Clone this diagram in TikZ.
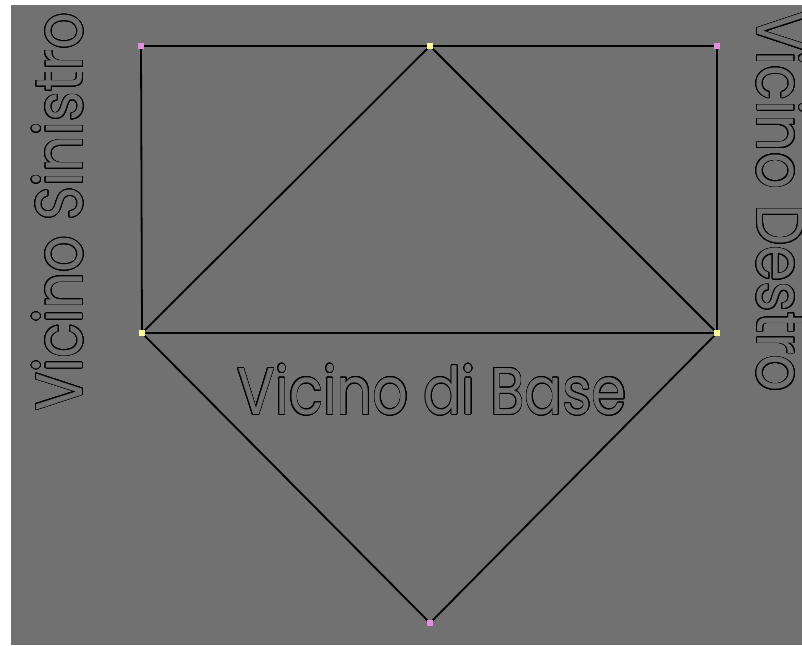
\documentclass[tikz,border=0pt]{standalone}
\usepackage{fontspec}
\setmainfont{Poppins}
\usepackage{contour}
\usetikzlibrary{positioning,calc}
\definecolor{BgGray}{RGB}{113,113,113}
\definecolor{VertPink}{RGB}{226,140,226}
\definecolor{VertYellow}{RGB}{250,250,150}
\contourlength{0.7pt}
\contournumber{32}
\newcommand{\hollow}[1]{\contour{black}{\textcolor{BgGray}{#1}}}

\begin{document}
\begin{tikzpicture}[x=1pt,y=-1pt,
    edge/.style={line width=1.8pt, black},
    vtx/.style={inner sep=0pt, minimum size=6pt, fill=#1},
    lbl/.style={font=\fontsize{66}{70}\selectfont, inner sep=0pt}]
      \useasboundingbox (0,0) rectangle (802,645);
      \clip (0,0) rectangle (802,645);
      \fill[white] (0,0) rectangle (802,645);
      \fill[BgGray] (11,5) rectangle (802,645);
      % vertici della mesh
      \coordinate (tl) at (141,46);
      \coordinate (tm) at (430,46);
      \coordinate (tr) at (717,46);
      \coordinate (ml) at (142,333);
      \coordinate (mr) at (717,333);
      \coordinate (bt) at (430,623);
      % spigoli
      \draw[edge] (tl)--(tm)--(tr);
      \draw[edge] (tl)--(ml); \draw[edge] (tr)--(mr);
      \draw[edge] (ml)--(mr);
      \draw[edge] (ml)--(tm)--(mr);
      \draw[edge] (ml)--(bt)--(mr);
      \node[vtx=VertPink] at (tl) {}; \node[vtx=VertYellow] at (tm) {};
      \node[vtx=VertPink] at (tr) {};
      \node[vtx=VertYellow] at (ml) {}; \node[vtx=VertYellow] at (mr) {};
      \node[vtx=VertPink] at (bt) {};
      % etichette
      \node[lbl, rotate=90, xscale=0.87] (sin) at (58,212) {\hollow{Vicino Sinistro}};
      \node[lbl, rotate=-90, xscale=0.88] (des) at (782,202) {\hollow{Vicino Destro}};
      \node[lbl, xscale=0.85] (base) at (432,390) {\hollow{Vicino di Base}};
    \end{tikzpicture}
\end{document}
